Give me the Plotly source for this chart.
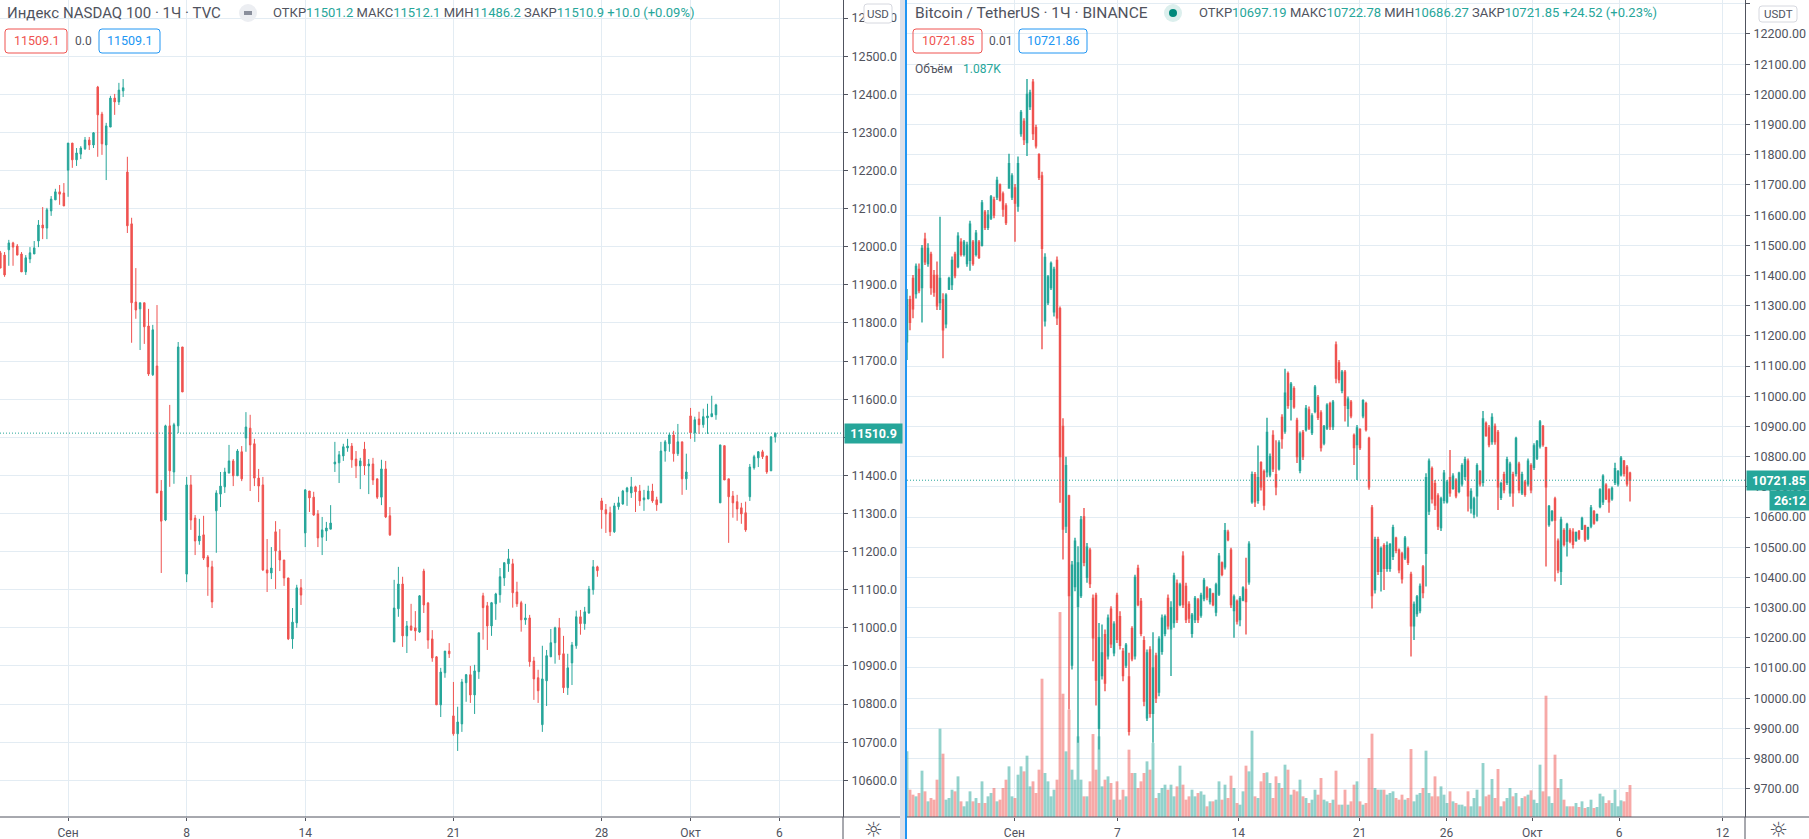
import plotly.graph_objects as go

W = 1809
H = 839

GREEN = "#26a69a"
RED = "#ef5350"
BLUE = "#2196f3"
GRID = "#e3ecf3"
TEXT = "#50535e"
FONT = "Roboto"

# NASDAQ 100, 1h bars (left pane)
nq_open = [11984,11978,11992,12010,12002,11981,11934,11968,11981,12015,
12057,12049,12094,12123,12144,12141,12201,12272,12228,12243,
12257,12280,12267,12419,12348,12267,12314,12390,12380,12409,
12196,12060,11855,11837,11853,11792,11664,11687,11359,11283,
11530,11409,11530,11737,11141,11375,11288,11228,11244,11186,
11160,11307,11351,11370,11406,11438,11399,11462,11498,11524,
11483,11393,11375,11152,11144,11252,11202,11178,11131,10971,
11013,11105,11249,11359,11343,11299,11238,11254,11259,11430,
11433,11451,11472,11477,11443,11425,11469,11425,11430,11391,
11343,11417,11294,10963,11050,11115,10979,11005,11000,10989,
11149,11065,10971,10924,10798,10882,10939,10769,10722,10748,
10856,10877,10824,10885,11084,11058,11005,11063,11087,11131,
11168,11168,11094,11066,11021,11026,10913,10869,10746,10861,
10924,10961,11000,10932,10843,10908,10953,11029,11011,11039,
11100,11160,11333,11310,11302,11252,11318,11325,11357,11354,
11370,11359,11336,11338,11359,11336,11328,11464,11483,11506,
11457,11488,11391,11556,11512,11548,11533,11551,11554,11559,
11328,11478,11391,11346,11331,11315,11302,11344,11420,11446,
11462,11451,11412,11501.2]
nq_high = [11989,11986,12018,12013,12007,11986,11978,11999,12015,12070,
12104,12102,12133,12152,12162,12167,12272,12272,12259,12264,
12288,12288,12301,12422,12354,12325,12396,12401,12430,12440,
12236,12076,11944,11853,11853,11837,11795,11847,11388,11533,
11585,11538,11750,11737,11396,11401,11296,11286,11294,11191,
11176,11361,11409,11420,11480,11443,11469,11477,11566,11559,
11496,11417,11396,11233,11212,11280,11259,11178,11131,11052,
11113,11128,11364,11359,11357,11309,11291,11278,11322,11488,
11464,11483,11496,11485,11464,11446,11488,11443,11446,11391,
11441,11438,11317,11126,11160,11134,11018,11063,11044,11086,
11155,11068,10994,10926,10895,10939,10960,10858,10793,10866,
10879,10900,10903,10987,11092,11068,11068,11092,11157,11171,
11207,11181,11121,11071,11063,11034,10924,10890,10953,10942,
10997,11003,11026,10979,10932,10963,11045,11047,11055,11110,
11178,11163,11341,11325,11318,11328,11344,11362,11370,11396,
11373,11375,11362,11373,11378,11344,11488,11493,11512,11517,
11535,11488,11457,11577,11554,11567,11575,11588,11609,11588,
11480,11478,11391,11359,11349,11328,11331,11430,11454,11464,
11467,11451,11503,11512.1]
nq_low = [11944,11921,11950,11950,11978,11934,11926,11957,11981,11999,
12020,12020,12081,12123,12110,12107,12131,12207,12212,12230,
12254,12254,12259,12236,12241,12175,12314,12346,12372,12393,
12036,11748,11811,11729,11745,11661,11661,11354,11144,11280,
11370,11378,11511,11619,11120,11257,11191,11218,11178,11084,
11052,11197,11317,11354,11406,11372,11399,11385,11462,11359,
11372,11330,11149,11094,11128,11102,11149,11110,10968,10945,
11000,11060,11212,11304,11294,11212,11191,11228,11259,11409,
11380,11438,11462,11420,11393,11364,11401,11351,11375,11338,
11322,11288,11241,10963,11029,10950,10934,10994,10966,10987,
11039,10945,10911,10798,10766,10869,10921,10717,10677,10727,
10806,10803,10774,10866,10969,10942,10979,11021,11066,11110,
11147,11053,11055,10990,11008,10898,10811,10803,10727,10795,
10924,10906,10916,10829,10824,10850,10945,10982,10995,11037,
11087,11134,11260,11249,11241,11249,11310,11323,11320,11341,
11304,11320,11307,11338,11328,11307,11328,11436,11462,11436,
11451,11349,11362,11496,11488,11509,11525,11509,11554,11546,
11328,11388,11223,11289,11281,11273,11252,11333,11415,11422,
11443,11404,11412,11486.2]
nq_close = [11944,11926,12010,11999,11978,11934,11971,11984,11997,12057,
12049,12097,12125,12144,12138,12107,12272,12228,12246,12259,
12280,12267,12299,12346,12270,12317,12390,12380,12411,12417,
12055,11853,11834,11853,11790,11666,11782,11354,11280,11530,
11412,11533,11737,11619,11375,11283,11228,11241,11183,11160,
11068,11354,11372,11409,11438,11399,11464,11391,11527,11480,
11393,11372,11152,11144,11157,11202,11178,11131,10971,11015,
11105,11086,11362,11341,11296,11236,11257,11262,11275,11435,
11454,11475,11477,11441,11425,11438,11425,11430,11388,11343,
11417,11291,11244,11052,11115,10979,11005,10994,10992,11084,
11060,10968,10921,10798,10884,10939,10932,10722,10753,10858,
10877,10824,10887,10987,11053,11005,11066,11089,11134,11171,
11181,11092,11063,11021,11026,10911,10866,10835,10866,10927,
10961,11000,10929,10843,10895,10955,11029,11011,11042,11102,
11160,11150,11310,11299,11252,11320,11328,11359,11367,11370,
11357,11333,11341,11359,11333,11323,11464,11488,11506,11457,
11488,11391,11409,11512,11546,11533,11554,11556,11562,11585,
11480,11388,11344,11328,11312,11299,11257,11422,11449,11462,
11449,11409,11501,11510.9]
nq_tick_pos = [16, 44, 72, 107, 142, 163, 184]
nq_tick_text = ["Сен", "8", "14", "21", "28", "Окт", "6"]
nq_last = 11510.9

# Bitcoin / TetherUS (right pane), one bar per three pixels of the original
btc_open = [11180,11320,11390,11340,11420,11360,11520,11440,11470,11400,
11400,11310,11320,11240,11355,11370,11470,11430,11510,11470,
11440,11450,11510,11470,11510,11500,11610,11560,11590,11650,
11660,11700,11670,11630,11690,11660,11690,11630,11870,11910,
11840,11960,12040,11890,11800,11730,11250,11310,11360,11280,
11450,11290,10900,10570,10670,10110,10370,10304,10340,10600,
10400,10490,10330,10340,9900,10075,10210,10140,10295,10150,
10340,10270,10155,10110,10070,10230,10140,10430,10320,10190,
9935,10160,9950,10140,10020,10155,10215,10330,10230,10250,
10380,10310,10470,10370,10310,10215,10260,10325,10275,10330,
10365,10320,10345,10285,10345,10448,10435,10550,10490,10290,
10320,10260,10325,10360,10385,10650,10740,10655,10780,10750,
10750,10740,10870,10740,10760,10930,10885,11075,10990,11025,
10920,10755,10880,10890,10955,10880,10950,10995,10945,10845,
10895,10975,10900,11170,11110,11020,11080,10960,10980,10870,
10840,10890,10935,10975,10860,10630,10360,10525,10420,10505,
10430,10430,10470,10530,10490,10478,10465,10495,10410,10240,
10280,10290,10435,10480,10620,10760,10710,10670,10565,10655,
10650,10730,10695,10722,10685,10710,10735,10785,10630,10610,
10670,10750,10715,10910,10895,10850,10900,10880,10665,10740,
10715,10680,10740,10745,10775,10680,10715,10710,10770,10765,
10795,10835,10900,10830,10575,10590,10660,10520,10420,10555,
10520,10555,10550,10522,10552,10560,10570,10530,10570,10618,
10590,10635,10650,10705,10690,10660,10715,10710,10740,10785,
10765,10745]
btc_high = [11355,11333,11402,11440,11440,11501,11542,11507,11479,11418,
11446,11595,11341,11341,11396,11463,11479,11543,11523,11518,
11512,11581,11518,11551,11518,11650,11617,11617,11667,11661,
11727,11705,11678,11639,11803,11739,11703,11794,11948,11921,
12051,12015,12051,11899,11805,11744,11474,11402,11446,11429,
11463,11297,10927,10800,10674,10454,10531,10503,10603,10630,
10514,10498,10343,10349,10249,10244,10227,10277,10304,10255,
10349,10288,10166,10183,10150,10238,10409,10442,10332,10205,
10161,10172,10218,10150,10205,10277,10277,10343,10321,10415,
10393,10382,10487,10382,10321,10282,10338,10332,10349,10398,
10371,10365,10349,10382,10481,10453,10580,10558,10498,10343,
10327,10338,10371,10465,10520,10751,10749,10837,10785,10757,
10929,10810,10887,10854,10854,10940,11091,11082,11047,11033,
10929,10883,10888,10971,10966,10944,11037,11004,10954,10905,
10977,10982,10988,11181,11120,11087,11087,10999,10988,10877,
10905,10894,10990,10982,10866,10640,10535,10535,10502,10513,
10519,10513,10574,10535,10496,10485,10537,10502,10419,10320,
10342,10380,10441,10745,10794,10767,10723,10679,10667,10756,
10723,10822,10745,10728,10750,10778,10800,10794,10695,10667,
10778,10756,10951,10916,10905,10944,10910,10888,10717,10750,
10800,10783,10750,10866,10783,10750,10723,10794,10778,10844,
10855,10921,10905,10833,10640,10623,10667,10529,10601,10563,
10581,10563,10563,10552,10557,10601,10574,10568,10640,10623,
10612,10695,10742,10712,10695,10701,10780,10756,10802,10789,
10772,10750]
btc_low = [11120,11219,11258,11324,11341,11244,11435,11429,11336,11330,
11286,11286,11126,11225,11352,11352,11391,11424,11463,11463,
11429,11416,11432,11463,11455,11496,11551,11551,11584,11590,
11650,11645,11595,11567,11700,11650,11512,11611,11860,11832,
11796,11948,11849,11821,11716,11156,11231,11302,11352,11264,
11236,10647,10459,10547,9962,10095,10354,9852,10332,10437,
10382,10365,10122,9976,9830,10062,10023,10128,10166,10139,
10183,10161,10056,10100,9876,10122,10128,10304,10205,9973,
9924,9935,9852,9984,10006,10144,10205,10227,10073,10233,
10249,10304,10299,10249,10249,10200,10249,10249,10266,10321,
10324,10310,10304,10271,10338,10404,10426,10520,10299,10200,
10244,10238,10321,10211,10376,10644,10633,10644,10688,10622,
10732,10732,10749,10672,10754,10826,10876,10959,10920,10959,
10779,10745,10789,10883,10888,10872,10944,10921,10817,10838,
10888,10888,10888,11043,11043,11010,10916,10899,10927,10772,
10723,10822,10927,10883,10690,10297,10347,10408,10353,10358,
10419,10419,10458,10480,10414,10380,10458,10441,10138,10193,
10270,10281,10331,10370,10607,10645,10623,10557,10554,10645,
10645,10667,10690,10662,10679,10701,10723,10618,10612,10596,
10601,10701,10701,10866,10831,10839,10839,10623,10656,10679,
10706,10667,10634,10734,10679,10673,10667,10701,10679,10756,
10789,10827,10833,10436,10568,10585,10386,10414,10375,10502,
10469,10513,10496,10518,10524,10557,10518,10524,10563,10574,
10585,10629,10640,10656,10614,10654,10706,10701,10734,10734,
10701,10651]
btc_close = [11320,11245,11290,11430,11350,11490,11445,11490,11360,11345,
11300,11390,11220,11335,11390,11450,11400,11530,11470,11510,
11500,11570,11440,11540,11460,11640,11560,11600,11660,11600,
11715,11650,11620,11575,11770,11730,11640,11770,11940,11850,
12000,12005,11870,11830,11725,11490,11460,11395,11440,11420,
11260,10800,10560,10770,10340,10440,10520,10448,10590,10450,
10500,10380,10200,10060,10200,10150,10050,10265,10180,10245,
10195,10175,10075,10175,9890,10130,10400,10310,10215,9990,
10150,9950,10100,10000,10195,10265,10270,10240,10300,10405,
10260,10375,10310,10260,10265,10275,10330,10260,10340,10390,
10335,10360,10310,10375,10470,10410,10555,10525,10310,10335,
10255,10330,10365,10320,10510,10740,10650,10730,10700,10640,
10880,10800,10760,10700,10845,10860,11010,10970,11040,10965,
10800,10875,10800,10960,10895,10935,11030,10930,10830,10900,
10970,10900,10980,11060,11055,11080,10970,10990,10935,10830,
10895,10830,10985,10890,10700,10340,10525,10420,10495,10430,
10505,10510,10565,10490,10425,10395,10530,10450,10240,10310,
10335,10370,10350,10730,10785,10660,10640,10570,10660,10745,
10715,10680,10735,10670,10745,10770,10790,10670,10685,10660,
10770,10710,10925,10870,10840,10930,10850,10700,10710,10690,
10790,10775,10680,10860,10690,10740,10675,10785,10690,10835,
10850,10915,10840,10700,10635,10618,10590,10425,10590,10510,
10575,10520,10510,10548,10530,10595,10525,10565,10630,10580,
10608,10690,10735,10660,10650,10695,10760,10750,10795,10745,
10710,10721.85]
btc_volume = [2232,929,759,702,816,1575,872,532,646,589,
1269,3002,2153,589,646,929,872,1382,532,363,
532,872,532,646,476,1212,476,702,816,986,
532,589,986,1269,1722,702,646,1439,1722,1552,
2085,1042,1212,816,1609,4702,1496,1212,702,929,
1269,6968,4192,2232,3648,1609,1269,2742,1269,702,
702,1212,2821,1609,2742,1042,1269,1382,1156,589,
1212,589,929,702,2289,1496,1496,986,1212,1496,
1892,1609,2515,646,816,986,1099,929,1099,702,
1042,1745,1099,589,702,929,702,816,872,759,
363,532,532,589,1212,589,1099,646,1405,986,
476,419,872,1745,1552,2934,702,646,1212,1496,
1518,1156,646,1382,1156,986,1779,1609,759,929,
872,1269,702,646,476,589,929,759,1326,589,
532,476,589,1575,419,419,929,419,532,1099,
1212,532,419,476,2005,2833,986,929,929,929,
759,816,872,646,589,759,589,646,2311,532,
759,816,986,2255,816,702,1382,702,1042,759,
476,872,532,476,419,419,363,872,363,646,
929,363,1835,702,759,1292,646,1632,363,532,
646,986,702,816,363,646,702,759,906,589,
476,1779,872,4124,702,476,2119,986,1292,589,
363,363,363,476,340,532,306,340,589,306,
340,793,702,476,567,476,929,363,567,532,
850,1087]
btc_tick_pos = [35.8, 70.1, 110.4, 150.8, 179.8, 208.4, 237.4, 271.8]
btc_tick_text = ["Сен", "7", "14", "21", "26", "Окт", "6", "12"]
btc_last = 10721.85


def fx(px):
    return px / W


def fy(px):
    return 1 - px / H


def rounded_box(x0, y0, x1, y1, color, fill="rgba(0,0,0,0)", r=3):
    xa, xb = fx(x0), fx(x1)
    ya, yb = fy(y0), fy(y1)
    rx, ry = r / W, r / H
    path = (f"M {xa+rx} {ya} L {xb-rx} {ya} Q {xb} {ya} {xb} {ya-ry} "
            f"L {xb} {yb+ry} Q {xb} {yb} {xb-rx} {yb} L {xa+rx} {yb} "
            f"Q {xa} {yb} {xa} {yb+ry} L {xa} {ya-ry} Q {xa} {ya} {xa+rx} {ya} Z")
    return dict(type="path", xref="paper", yref="paper", path=path,
                line=dict(color=color, width=1), fillcolor=fill, layer="above")


def label(x, y, text, color=TEXT, size=12, anchor="left", **kw):
    return dict(xref="paper", yref="paper", x=fx(x), y=fy(y), text=text,
                showarrow=False, xanchor=anchor, yanchor="middle",
                font=dict(family=FONT, size=size, color=color), borderpad=0, **kw)


def ohlc_text(o, h, l, c, change):
    g = f'<span style="color:{GREEN}">'
    return (f'ОТКР{g}{o}</span> МАКС{g}{h}</span> МИН{g}{l}</span> '
            f'ЗАКР{g}{c}</span> {g}{change}</span>')


fig = go.Figure()

fig.add_trace(go.Candlestick(
    x=list(range(len(nq_open))), open=nq_open, high=nq_high, low=nq_low, close=nq_close,
    xaxis="x", yaxis="y",
    increasing=dict(line=dict(color=GREEN, width=1), fillcolor=GREEN),
    decreasing=dict(line=dict(color=RED, width=1), fillcolor=RED),
))

btc_x = list(range(len(btc_open)))
vol_colors = ["rgba(38,166,154,0.5)" if c >= o else "rgba(239,83,80,0.5)"
              for o, c in zip(btc_open, btc_close)]
fig.add_trace(go.Bar(x=btc_x, y=btc_volume, xaxis="x2", yaxis="y2",
                     marker=dict(color=vol_colors, line=dict(width=0)), width=0.95))
fig.add_trace(go.Candlestick(
    x=btc_x, open=btc_open, high=btc_high, low=btc_low, close=btc_close,
    xaxis="x2", yaxis="y3",
    increasing=dict(line=dict(color=GREEN, width=1.4), fillcolor=GREEN),
    decreasing=dict(line=dict(color=RED, width=1.4), fillcolor=RED),
))

x_common = dict(showgrid=True, gridcolor=GRID, gridwidth=1, showline=False, zeroline=False,
                ticks="outside", ticklen=3, tickcolor=TEXT, tickmode="array", automargin=False,
                rangeslider=dict(visible=False), tickangle=0,
                tickfont=dict(family=FONT, size=12, color=TEXT), ticklabelstandoff=2)
y_common = dict(showgrid=True, gridcolor=GRID, gridwidth=1, zeroline=False, side="right",
                showline=True, linecolor=TEXT, linewidth=1, ticks="outside", ticklen=4,
                tickcolor=TEXT, tick0=0, dtick=100, ticklabelstandoff=1, automargin=False,
                tickfont=dict(family=FONT, size=12.5, color=TEXT))
bottom = 22 / H

fig.update_layout(
    width=W, height=H, margin=dict(l=0, r=0, t=0, b=0), autosize=False,
    paper_bgcolor="white", plot_bgcolor="white", showlegend=False, boxgap=0.5,
    font=dict(family=FONT),
    xaxis=dict(domain=[0, fx(843)], range=[-0.08, 199], anchor="y",
               tickvals=nq_tick_pos, ticktext=nq_tick_text, **x_common),
    yaxis=dict(domain=[bottom, 1], range=[10503.7, 12647.4], anchor="x",
               tickformat=".1f", **y_common),
    xaxis2=dict(domain=[fx(907), fx(1745)], range=[0, 279.33], anchor="y3",
                tickvals=btc_tick_pos, ticktext=btc_tick_text, **x_common),
    yaxis2=dict(domain=[bottom, 1], range=[0, 27780], anchor="x2", visible=False,
                showgrid=False),
    yaxis3=dict(domain=[bottom, 1], range=[9606.3, 12312.6], anchor="x2", overlaying="y2",
                tickformat=".2f", **y_common),
)

shapes = [
    # bottom axis line and stubs under the price scales
    dict(type="line", xref="paper", yref="paper", x0=0, x1=1, y0=fy(817), y1=fy(817),
         line=dict(color=TEXT, width=1), layer="above"),
    dict(type="line", xref="paper", yref="paper", x0=fx(843), x1=fx(843), y0=0, y1=fy(817),
         line=dict(color=TEXT, width=1), layer="above"),
    dict(type="line", xref="paper", yref="paper", x0=fx(1745), x1=fx(1745), y0=0, y1=fy(817),
         line=dict(color=TEXT, width=1), layer="above"),
    # pane separator
    dict(type="rect", xref="paper", yref="paper", x0=fx(900), x1=fx(905), y0=0, y1=1,
         line=dict(width=0), fillcolor="#dde1ea", layer="above"),
    dict(type="rect", xref="paper", yref="paper", x0=fx(905), x1=fx(907), y0=0, y1=1,
         line=dict(width=0), fillcolor=BLUE, layer="above"),
    # last price lines
    dict(type="line", xref="paper", yref="y", x0=0, x1=fx(843), y0=nq_last, y1=nq_last,
         line=dict(color=GREEN, width=1, dash="1px,2px"), layer="above"),
    dict(type="line", xref="paper", yref="y3", x0=fx(907), x1=fx(1745), y0=btc_last, y1=btc_last,
         line=dict(color=GREEN, width=1, dash="1px,2px"), layer="above"),
    # status dots in the legends
    dict(type="circle", xref="paper", yref="paper", x0=fx(239), x1=fx(257), y0=fy(4), y1=fy(22),
         line=dict(width=0), fillcolor="#eceef2", layer="above"),
    dict(type="rect", xref="paper", yref="paper", x0=fx(244), x1=fx(252), y0=fy(11), y1=fy(15),
         line=dict(width=0), fillcolor="#8a8f9c", layer="above"),
    dict(type="circle", xref="paper", yref="paper", x0=fx(1164), x1=fx(1182), y0=fy(4), y1=fy(22),
         line=dict(width=0), fillcolor="#dcefed", layer="above"),
    dict(type="circle", xref="paper", yref="paper", x0=fx(1169), x1=fx(1177), y0=fy(9), y1=fy(17),
         line=dict(width=0), fillcolor="#00897b", layer="above"),
    # bid / ask boxes and currency buttons
    rounded_box(5, 29, 67, 53, RED),
    rounded_box(99, 29, 160, 53, BLUE),
    rounded_box(913, 29, 982, 53, RED),
    rounded_box(1019, 29, 1087, 53, BLUE),
    rounded_box(864, 4, 892, 23, "#d6d8df", "white"),
    rounded_box(1759, 6, 1797, 22, "#d6d8df", "white"),
]

annotations = [
    label(6, 13, "Индекс NASDAQ 100 · 1Ч · TVC", size=15),
    label(272, 13, ohlc_text("11501.2", "11512.1", "11486.2", "11510.9", "+10.0 (+0.09%)"), size=13),
    label(36, 41, "11509.1", RED, 12.5, "center"),
    label(83.5, 41, "0.0", TEXT, 12, "center"),
    label(129.5, 41, "11509.1", BLUE, 12.5, "center"),
    label(878, 13.5, "USD", TEXT, 11.5, "center"),
    label(914, 13, "Bitcoin / TetherUS · 1Ч · BINANCE", size=15.5),
    label(1198, 13, ohlc_text("10697.19", "10722.78", "10686.27", "10721.85", "+24.52 (+0.23%)"), size=13),
    label(947.5, 41, "10721.85", RED, 12.5, "center"),
    label(1000, 41, "0.01", TEXT, 12, "center"),
    label(1053, 41, "10721.86", BLUE, 12.5, "center"),
    label(914, 69, "Объём", TEXT, 12),
    label(962, 69, "1.087K", GREEN, 12),
    label(1778, 14, "USDT", TEXT, 11.5, "center"),
    label(843.5, 433.5, "<b>11510.9</b>", "white", 12.5, bgcolor=GREEN, width=57, height=19, align="center"),
    label(1745.5, 480.5, "<b>10721.85</b>", "white", 12.5, bgcolor=GREEN, width=64, height=19, align="center"),
    label(1769, 500.5, "<b>26:12</b>", "white", 12.5, bgcolor=GREEN, width=40, height=19, align="center"),
    label(873, 830, "☼", TEXT, 21, "center"),
    label(1778, 830, "☼", TEXT, 21, "center"),
]
for a in annotations[-2:]:
    a["font"]["family"] = "DejaVu Sans"

fig.update_layout(shapes=shapes, annotations=annotations)

fig.write_html("out.html", config=dict(displayModeBar=False),
               post_script="document.body.style.margin='0';document.body.style.overflow='hidden';")
